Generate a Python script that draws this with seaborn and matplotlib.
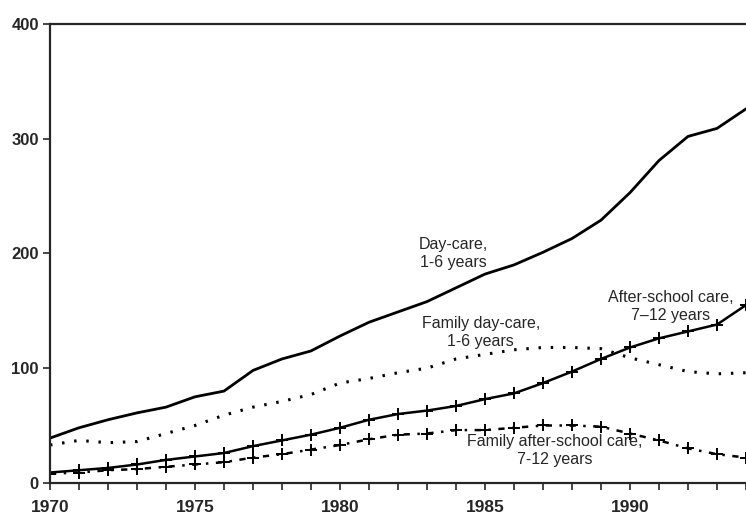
import pandas as pd
import matplotlib
matplotlib.use("Agg")
import matplotlib.pyplot as plt
import seaborn as sns

years = list(range(1970, 1995))
day_care = [39, 48, 55, 61, 66, 75, 80, 98, 108, 115, 128, 140,
            149, 158, 170, 182, 190, 201, 213, 229, 253, 281, 302, 309, 326]
family_day_care = [33, 37, 35, 36, 43, 50, 59, 66, 71, 77, 87, 91,
                   96, 100, 108, 112, 116, 118, 118, 117, 109, 103, 97, 95, 96]
after_school = [9, 11, 13, 16, 20, 23, 26, 32, 37, 42, 48, 55,
                60, 63, 67, 73, 78, 87, 97, 108, 118, 126, 132, 138, 155]
family_after_school = [8, 9, 11, 12, 14, 16, 18, 22, 25, 29, 33, 38,
                       42, 43, 46, 46, 48, 50, 50, 49, 43, 37, 30, 25, 22]

sns.set_style("ticks")
plt.rcParams['font.family'] = ['Liberation Sans', 'DejaVu Sans']

fig = plt.figure(figsize=(7.46, 5.22), dpi=100)
ax = fig.add_axes([0.067, 0.075, 0.933, 0.879])

df = pd.DataFrame({"Year": years, "day": day_care, "fam_day": family_day_care,
                   "after": after_school, "fam_after": family_after_school})

sns.lineplot(data=df, x="Year", y="day", color="black", linewidth=2, ax=ax)
sns.lineplot(data=df, x="Year", y="fam_day", color="black", linewidth=2.2,
             linestyle=(0, (0.8, 3.2)), ax=ax)
sns.lineplot(data=df, x="Year", y="after", color="black", linewidth=1.8,
             marker="+", markersize=9, markeredgewidth=1.4, markeredgecolor="black", ax=ax)
sns.lineplot(data=df, x="Year", y="fam_after", color="black", linewidth=1.8,
             linestyle=(0, (2.5, 3, 1, 3)), marker="+", markersize=9,
             markeredgewidth=1.4, markeredgecolor="black", ax=ax)

ax.set_xlim(1970, 1993.9)
ax.set_ylim(0, 400)
ax.set_xlabel("")
ax.set_ylabel("")
ax.set_xticks(years, minor=True)
ax.set_xticks([1970, 1975, 1980, 1985, 1990])
ax.set_yticks([0, 100, 200, 300, 400])
ax.tick_params(axis="x", which="both", direction="out", length=5, width=1.2, pad=7)
ax.tick_params(axis="y", direction="out", length=5, width=1.2, pad=3)
for lab in ax.get_xticklabels():
    lab.set_fontweight("bold")
    lab.set_fontsize(12.5)
for lab in ax.get_yticklabels():
    lab.set_fontweight("bold")
    lab.set_fontsize(12)

for side in ["left", "bottom", "top"]:
    ax.spines[side].set_visible(True)
    ax.spines[side].set_linewidth(1.6)
ax.spines["right"].set_visible(False)

txt = dict(ha="center", va="center", fontsize=11.5, linespacing=1.25)
ax.text(1983.9, 200, "Day-care,\n1-6 years", **txt)
ax.text(1984.85, 131, "Family day-care,\n1-6 years", **txt)
ax.text(1991.4, 154, "After-school care,\n7\u201312 years", **txt)
ax.text(1987.4, 28, "Family after-school care,\n7-12 years", **txt)

fig.savefig("out.png", dpi=100)
